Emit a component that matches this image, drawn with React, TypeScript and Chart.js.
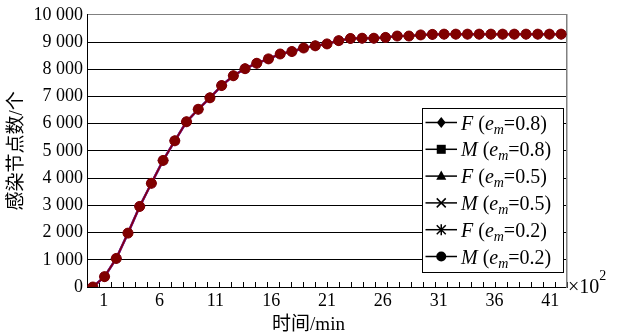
import React, { useEffect, useRef } from 'react';
import { Chart, registerables } from 'chart.js';

Chart.register(...registerables);

// ---- data ----
const timeCategories = [
  '1', '2', '3', '4', '5', '6', '7', '8', '9', '10',
  '11', '12', '13', '14', '15', '16', '17', '18', '19', '20',
  '21', '22', '23', '24', '25', '26', '27', '28', '29', '30',
  '31', '32', '33', '34', '35', '36', '37', '38', '39', '40', '41',
];
const xLabelEvery = 5;
const xTitle = '时间/min';
const xUnit = '×10';
const xUnitExp = '2';
const yTitle = '感染节点数/个';
const yMin = 0;
const yMax = 10000;
const yStep = 1000;

const seriesModels = ['F', 'M', 'F', 'M', 'F', 'M'];
const seriesEm = ['0.8', '0.8', '0.5', '0.5', '0.2', '0.2'];

const infectedF08 = [0, 380, 1050, 1980, 2960, 3810, 4650, 5370, 6070, 6530, 6950, 7400, 7760, 8020, 8220, 8380, 8560, 8650, 8780, 8860, 8930, 9050, 9130, 9140, 9140, 9170, 9220, 9220, 9260, 9280, 9290, 9290, 9290, 9290, 9290, 9290, 9290, 9290, 9290, 9290, 9290];
const infectedM08 = [0, 380, 1050, 1980, 2960, 3810, 4650, 5370, 6070, 6530, 6950, 7400, 7760, 8020, 8220, 8380, 8560, 8650, 8780, 8860, 8930, 9050, 9130, 9140, 9140, 9170, 9220, 9220, 9260, 9280, 9290, 9290, 9290, 9290, 9290, 9290, 9290, 9290, 9290, 9290, 9290];
const infectedF05 = [0, 380, 1050, 1980, 2960, 3810, 4650, 5370, 6070, 6530, 6950, 7400, 7760, 8020, 8220, 8380, 8560, 8650, 8780, 8860, 8930, 9050, 9130, 9140, 9140, 9170, 9220, 9220, 9260, 9280, 9290, 9290, 9290, 9290, 9290, 9290, 9290, 9290, 9290, 9290, 9290];
const infectedM05 = [0, 380, 1050, 1980, 2960, 3810, 4650, 5370, 6070, 6530, 6950, 7400, 7760, 8020, 8220, 8380, 8560, 8650, 8780, 8860, 8930, 9050, 9130, 9140, 9140, 9170, 9220, 9220, 9260, 9280, 9290, 9290, 9290, 9290, 9290, 9290, 9290, 9290, 9290, 9290, 9290];
const infectedF02 = [0, 380, 1050, 1980, 2960, 3810, 4650, 5370, 6070, 6530, 6950, 7400, 7760, 8020, 8220, 8380, 8560, 8650, 8780, 8860, 8930, 9050, 9130, 9140, 9140, 9170, 9220, 9220, 9260, 9280, 9290, 9290, 9290, 9290, 9290, 9290, 9290, 9290, 9290, 9290, 9290];
const infectedM02 = [0, 380, 1050, 1980, 2960, 3810, 4650, 5370, 6070, 6530, 6950, 7400, 7760, 8020, 8220, 8380, 8560, 8650, 8780, 8860, 8930, 9050, 9130, 9140, 9140, 9170, 9220, 9220, 9260, 9280, 9290, 9290, 9290, 9290, 9290, 9290, 9290, 9290, 9290, 9290, 9290];

const seriesData = [infectedF08, infectedM08, infectedF05, infectedM05, infectedF02, infectedM02];

// ---- styles ----
const seriesColors = ['#000080', '#FF00FF', '#FFFF00', '#00FFFF', '#800080', '#800000'];
const seriesMarkers = ['rectRot', 'rect', 'triangle', 'crossRot', 'star', 'circle'];
const seriesLineWidths = [2, 2, 2, 2, 2.5, 1.2];

const SERIF = '"Liberation Serif", "Times New Roman", serif';
const CJK = '"Liberation Serif", "Noto Sans CJK SC", sans-serif';

function formatThousands(v: number): string {
  if (v < 1000) return String(v);
  const th = Math.floor(v / 1000);
  const rest = String(v % 1000).padStart(3, '0');
  return th + ' ' + rest;
}

function drawLegendMarker(ctx: CanvasRenderingContext2D, style: string, x: number, y: number) {
  ctx.save();
  ctx.fillStyle = '#000';
  ctx.strokeStyle = '#000';
  ctx.lineWidth = 1.5;
  ctx.beginPath();
  switch (style) {
    case 'rectRot': {
      const r = 5.5;
      ctx.moveTo(x, y - r);
      ctx.lineTo(x + r * 0.8, y);
      ctx.lineTo(x, y + r);
      ctx.lineTo(x - r * 0.8, y);
      ctx.closePath();
      ctx.fill();
      break;
    }
    case 'rect': {
      const s = 9;
      ctx.fillRect(x - s / 2, y - s / 2, s, s);
      break;
    }
    case 'triangle': {
      const r = 5;
      ctx.moveTo(x, y - r - 0.5);
      ctx.lineTo(x + r, y + r * 0.75);
      ctx.lineTo(x - r, y + r * 0.75);
      ctx.closePath();
      ctx.fill();
      break;
    }
    case 'crossRot': {
      const r = 4.5;
      ctx.moveTo(x - r, y - r);
      ctx.lineTo(x + r, y + r);
      ctx.moveTo(x + r, y - r);
      ctx.lineTo(x - r, y + r);
      ctx.stroke();
      break;
    }
    case 'star': {
      const r = 4.5;
      ctx.moveTo(x - r, y - r);
      ctx.lineTo(x + r, y + r);
      ctx.moveTo(x + r, y - r);
      ctx.lineTo(x - r, y + r);
      ctx.moveTo(x, y - r - 1);
      ctx.lineTo(x, y + r + 1);
      ctx.stroke();
      break;
    }
    default: {
      ctx.arc(x, y, 5, 0, Math.PI * 2);
      ctx.fill();
    }
  }
  ctx.restore();
}

const overlayPlugin = {
  id: 'overlay',
  afterDraw(chart: any) {
    const { ctx, chartArea } = chart;
    ctx.save();
    ctx.fillStyle = '#000';

    // x axis title, centred on the whole figure
    ctx.font = `19px ${CJK}`;
    ctx.textAlign = 'center';
    ctx.textBaseline = 'middle';
    ctx.fillText(xTitle, chart.width / 2, chart.height - 10);

    // ×10^2 unit
    ctx.textAlign = 'left';
    ctx.textBaseline = 'alphabetic';
    ctx.font = `20px ${SERIF}`;
    const ux = chartArea.right + 1;
    const uy = chartArea.bottom + 6;
    ctx.fillText(xUnit, ux, uy);
    const uw = ctx.measureText(xUnit).width;
    ctx.font = `14px ${SERIF}`;
    ctx.fillText(xUnitExp, ux + uw, uy - 13);

    // legend
    const boxRight = chartArea.right - 4;
    const boxBottom = chartArea.bottom - 15.5;
    const boxW = 141;
    const boxH = 164;
    const boxLeft = boxRight - boxW;
    const boxTop = boxBottom - boxH;
    ctx.fillStyle = '#fff';
    ctx.fillRect(boxLeft, boxTop, boxW, boxH);
    ctx.strokeStyle = '#000';
    ctx.lineWidth = 1;
    ctx.strokeRect(Math.round(boxLeft) + 0.5, Math.round(boxTop) + 0.5, boxW, boxH);

    const rowH = 26.8;
    chart.data.datasets.forEach((ds: any, i: number) => {
      const cy = boxTop + 15 + i * rowH;
      const lx0 = boxLeft + 3.5;
      const lx1 = boxLeft + 35;
      ctx.strokeStyle = '#000';
      ctx.lineWidth = 1.5;
      ctx.beginPath();
      ctx.moveTo(lx0, cy);
      ctx.lineTo(lx1, cy);
      ctx.stroke();
      drawLegendMarker(ctx, seriesMarkers[i], (lx0 + lx1) / 2, cy);

      let tx = boxLeft + 39;
      const base = cy + 7;
      ctx.fillStyle = '#000';
      ctx.textAlign = 'left';
      ctx.textBaseline = 'alphabetic';
      const parts: [string, string, number][] = [
        [seriesModels[i], `italic 20px ${SERIF}`, 0],
        [' (', `20px ${SERIF}`, 0],
        ['e', `italic 20px ${SERIF}`, 0],
        ['m', `italic 14px ${SERIF}`, 4],
        ['=' + seriesEm[i] + ')', `20px ${SERIF}`, 0],
      ];
      parts.forEach(([t, f, dy]) => {
        ctx.font = f;
        ctx.fillText(t, tx, base + dy);
        tx += ctx.measureText(t).width;
      });
    });

    ctx.restore();
  },
};

export default function App() {
  const ref = useRef<HTMLCanvasElement>(null);

  useEffect(() => {
    if (!ref.current) return;
    const datasets = seriesData.map((data, i) => ({
      label: `${seriesModels[i]} (em=${seriesEm[i]})`,
      data,
      borderColor: seriesColors[i],
      backgroundColor: seriesColors[i],
      pointBackgroundColor: seriesColors[i],
      pointBorderColor: seriesColors[i],
      pointStyle: seriesMarkers[i],
      pointRadius: 5,
      pointBorderWidth: seriesMarkers[i] === 'crossRot' || seriesMarkers[i] === 'star' ? 2 : 1,
      borderWidth: seriesLineWidths[i],
      tension: 0,
      order: seriesData.length - 1 - i,
    }));

    const chart = new Chart(ref.current, {
      type: 'line',
      data: { labels: timeCategories, datasets },
      options: {
        animation: false,
        responsive: false,
        devicePixelRatio: 1,
        layout: { padding: { left: 0, right: 50, top: 13, bottom: 0 } },
        plugins: {
          legend: { display: false },
          tooltip: { enabled: false },
        },
        scales: {
          x: {
            type: 'category',
            display: false,
            offset: true,
            weight: 2,
          },
          xTicks: {
            type: 'linear',
            position: 'bottom',
            weight: 0,
            min: 0,
            max: timeCategories.length - 1,
            ticks: { display: false, stepSize: 1, maxTicksLimit: 200 },
            grid: { drawOnChartArea: false, drawTicks: true, tickLength: -5, color: '#000', lineWidth: 1 },
            border: { display: true, color: '#000', width: 1 },
            afterFit: (s: any) => { s.height = 0; },
          },
          xLabels: {
            type: 'category',
            position: 'bottom',
            weight: 1,
            labels: ['', ...timeCategories, ''],
            offset: true,
            grid: { display: false, drawTicks: false },
            border: { display: false },
            ticks: {
              autoSkip: false,
              maxRotation: 0,
              padding: 3,
              color: '#000',
              font: { family: SERIF, size: 18 },
              callback: function (this: any, val: any, idx: number) {
                const n = idx - 1;
                if (n >= 0 && n < timeCategories.length && n % xLabelEvery === 0) return timeCategories[n];
                return '';
              },
            },
            afterFit: (s: any) => { s.height = 48; },
          },
          y: {
            type: 'linear',
            position: 'left',
            min: yMin,
            max: yMax,
            ticks: {
              stepSize: yStep,
              padding: 4,
              color: '#000',
              font: { family: SERIF, size: 18 },
              callback: (v: any) => formatThousands(Number(v)),
            },
            grid: {
              color: (c: any) => (c.tick && c.tick.value === yMax ? '#808080' : '#000'),
              lineWidth: 1,
              drawTicks: false,
            },
            border: { color: '#000', width: 1 },
            title: {
              display: true,
              text: yTitle,
              color: '#000',
              font: { family: CJK, size: 19 },
              padding: { top: 6, bottom: 0 },
            },
            afterFit: (s: any) => { s.width = 87; },
          },
          y2: {
            type: 'linear',
            position: 'right',
            min: yMin,
            max: yMax,
            ticks: { display: false },
            grid: { drawOnChartArea: false, drawTicks: false },
            border: { display: true, color: '#808080', width: 1.5 },
            afterFit: (s: any) => { s.width = 0; },
          },
        },
      },
      plugins: [overlayPlugin],
    } as any);

    return () => chart.destroy();
  }, []);

  return (
    <div style={{ position: 'fixed', left: 0, top: 0, width: 617, height: 335, background: '#fff' }}>
      <canvas ref={ref} width={617} height={335} style={{ display: 'block', width: 617, height: 335 }} />
    </div>
  );
}
